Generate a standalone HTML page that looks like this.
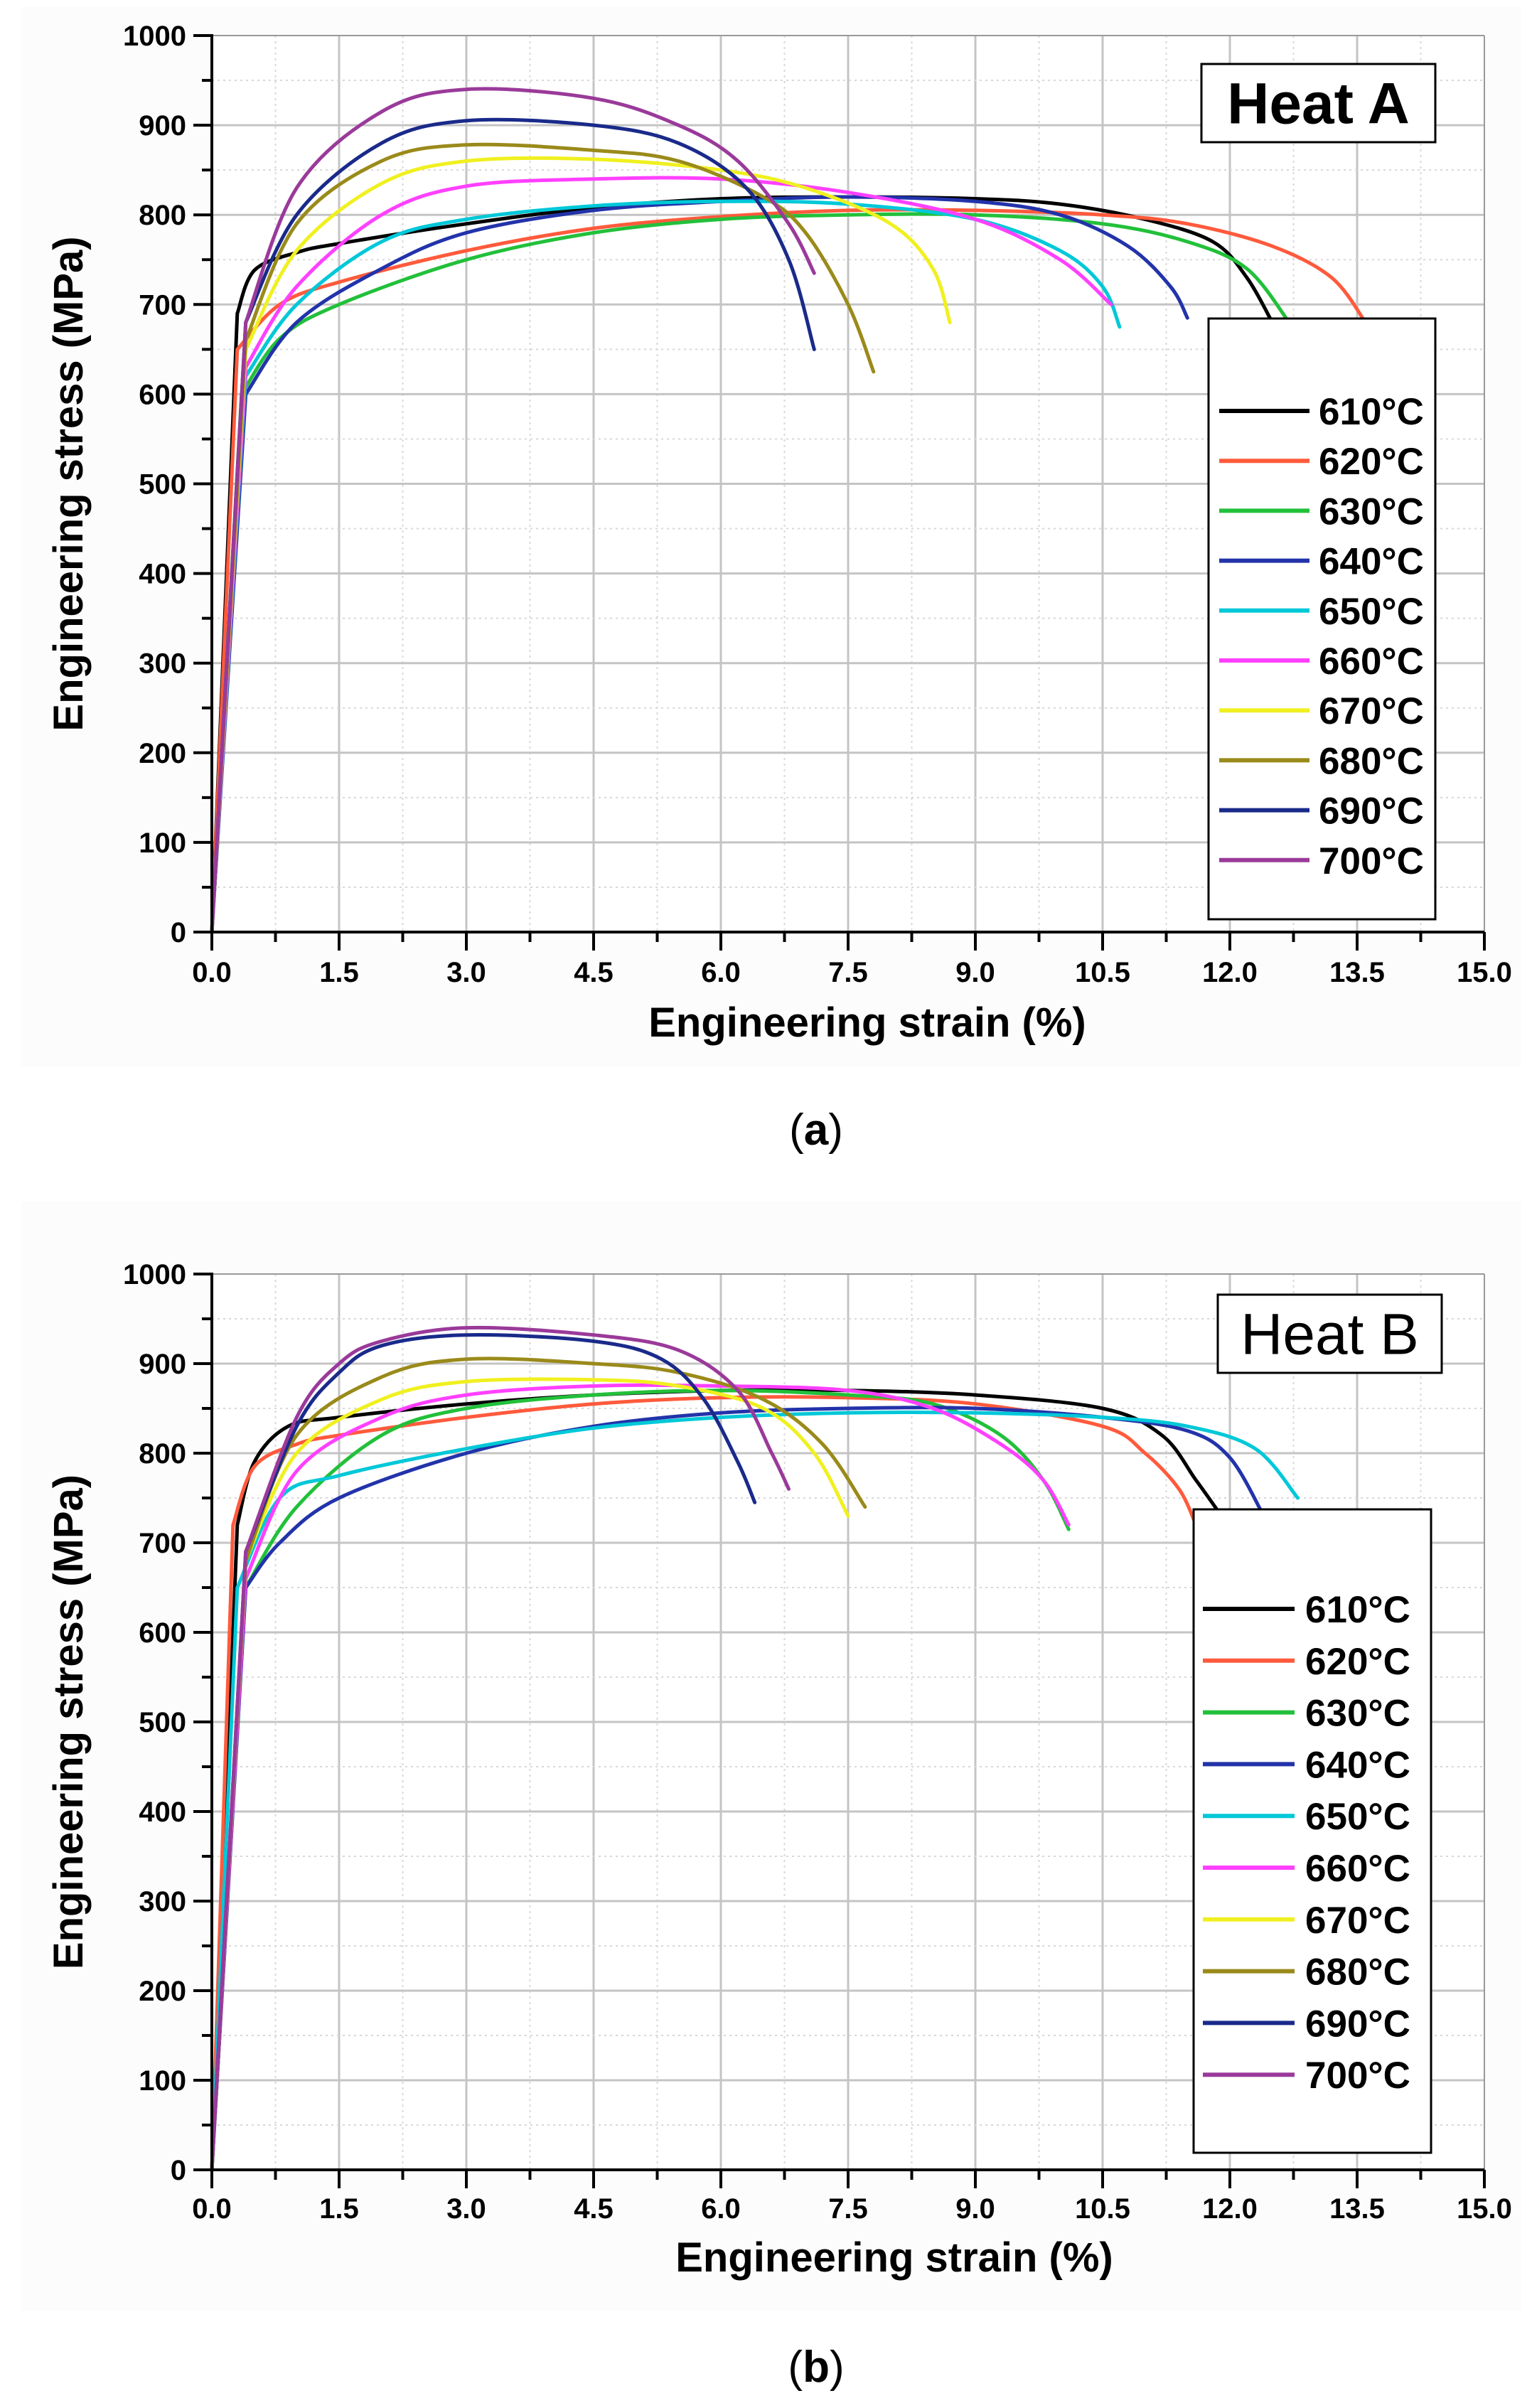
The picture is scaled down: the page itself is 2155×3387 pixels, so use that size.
<!DOCTYPE html>
<html><head><meta charset="utf-8">
<style>
html,body{margin:0;padding:0;background:#fff;}
svg{display:block;}
text{font-family:"Liberation Sans",Arial,sans-serif;}
</style></head>
<body>
<svg id="s" width="2155" height="3387" viewBox="0 0 2155 3387" xmlns="http://www.w3.org/2000/svg">
<rect width="2155" height="3387" fill="#fff"/>
<rect x="30" y="10" width="2110" height="1490" fill="#fcfcfc"/>
<rect x="30" y="1690" width="2110" height="1560" fill="#fcfcfc"/>
<text x="1148" y="1610" font-family="Liberation Serif" font-size="62" text-anchor="middle">(<tspan font-weight="bold">a</tspan>)</text>
<text x="1148" y="3350" font-family="Liberation Serif" font-size="62" text-anchor="middle">(<tspan font-weight="bold">b</tspan>)</text>
</svg>
<script>
const NS="http://www.w3.org/2000/svg";
const svg=document.getElementById('s');
function el(t,a,txt){const e=document.createElementNS(NS,t);for(const k in a)e.setAttribute(k,a[k]);if(txt!==undefined)e.textContent=txt;svg.appendChild(e);return e;}
const colors=['#000000','#ff5a3c','#22c03a','#2233aa','#00c8d8','#ff40ff','#f0f020','#9a8a1a','#1a2a8a','#9a3a9a'];
const labels=['610°C','620°C','630°C','640°C','650°C','660°C','670°C','680°C','690°C','700°C'];
function smooth(pts){
 // straight elastic segment from origin, then smoothed curve
 let d='M'+pts[0][0]+','+pts[0][1]+' L'+pts[1][0]+','+pts[1][1];
 for(let i=1;i<pts.length-1;i++){const p0=i>1?pts[i-1]:pts[i],p1=pts[i],p2=pts[i+1],p3=pts[i+2]||p2;
  const c1=[p1[0]+(p2[0]-p0[0])/6,p1[1]+(p2[1]-p0[1])/6],c2=[p2[0]-(p3[0]-p1[0])/6,p2[1]-(p3[1]-p1[1])/6];
  d+=' C'+c1.join(',')+' '+c2.join(',')+' '+p2.join(',');}return d;}
function plot(cfg){
 const x0=298,x1=2088,y0=cfg.y0,y1=cfg.y1;
 const X=v=>x0+(x1-x0)*v/15, Y=v=>y0+(y1-y0)*v/1000;
 el('rect',{x:x0,y:y1,width:x1-x0,height:y0-y1,fill:'#fff'});
 for(let i=1;i<20;i++){const v=i*0.75;el('line',{x1:X(v),y1:y1,x2:X(v),y2:y0,stroke:i%2?'#d8d8d8':'#c4c4c4','stroke-width':i%2?2:3,'stroke-dasharray':i%2?'3,5':''});}
 for(let i=1;i<20;i++){const v=i*50;el('line',{x1:x0,y1:Y(v),x2:x1,y2:Y(v),stroke:i%2?'#d8d8d8':'#c4c4c4','stroke-width':i%2?2:3,'stroke-dasharray':i%2?'3,5':''});}
 el('line',{x1:x1,y1:y1,x2:x1,y2:y0,stroke:'#999','stroke-width':2});
 el('line',{x1:x0,y1:y1,x2:x1,y2:y1,stroke:'#999','stroke-width':2});
 cfg.data.forEach((c,i)=>{const pts=[[0,0]].concat(c).map(p=>[+X(p[0]).toFixed(1),+Y(p[1]).toFixed(1)]);
  el('path',{d:smooth(pts),fill:'none',stroke:colors[i],'stroke-width':5,'stroke-linejoin':'round','stroke-linecap':'round'});});
 el('line',{x1:x0,y1:y0,x2:x1,y2:y0,stroke:'#000','stroke-width':4});
 el('line',{x1:x0,y1:y1-2,x2:x0,y2:y0,stroke:'#000','stroke-width':4});
 for(let i=0;i<=20;i++){const v=i*0.75;el('line',{x1:X(v),y1:y0,x2:X(v),y2:y0+(i%2?14:26),stroke:'#000','stroke-width':4});
  if(i%2==0)el('text',{x:X(v),y:cfg.xl,'font-size':40,'font-weight':'bold','text-anchor':'middle'},v.toFixed(1));}
 for(let i=0;i<=20;i++){const v=i*50;el('line',{x1:x0,y1:Y(v),x2:x0-(i%2?14:26),y2:Y(v),stroke:'#000','stroke-width':4});
  if(i%2==0)el('text',{x:262,y:Y(v)+14,'font-size':40,'font-weight':'bold','text-anchor':'end'},String(v));}
 el('text',{x:cfg.xc,y:cfg.xt,'font-size':58,'font-weight':'bold','text-anchor':'middle'},'Engineering strain (%)');
 el('text',{x:0,y:0,'font-size':58,'font-weight':'bold','text-anchor':'middle',transform:`translate(116,${(y0+y1)/2}) rotate(-90)`},'Engineering stress (MPa)');
 const h=cfg.heat;el('rect',{x:h[0],y:h[1],width:h[2],height:h[3],fill:'#fff',stroke:'#000','stroke-width':3});
 el('text',{x:h[0]+h[2]/2,y:h[1]+h[3]*0.76,'font-size':h[5],'font-weight':h[6],'text-anchor':'middle'},h[4]);
 const L=cfg.leg;el('rect',{x:L[0],y:L[1],width:L[2],height:L[3],fill:'#fff',stroke:'#000','stroke-width':3});
 for(let i=0;i<10;i++){const yy=L[4]+i*L[5];
  el('line',{x1:L[6],y1:yy,x2:L[7],y2:yy,stroke:colors[i],'stroke-width':6});
  el('text',{x:L[8],y:yy+19,'font-size':53,'font-weight':'bold'},labels[i]);}
}
plot({y0:1311,y1:50,xl:1381,xt:1458,xc:1220,
 heat:[1690,90,329,110,'Heat A',82,'bold'],
 leg:[1700,448,319,845,578,70.2,1715,1842,1855],
 data:[
 [[0.3,690],[0.5,738],[1.0,758],[1.5,768],[3,790],[4.5,808],[6,818],[7.5,820],[9,818],[10,812],[11,795],[11.8,770],[12.2,730],[12.5,680]],
 [[0.3,650],[0.8,700],[1.5,725],[3,760],[4.5,785],[6,798],[7.5,805],[9,805],[10.5,800],[11.5,790],[12.5,765],[13.2,730],[13.6,680]],
 [[0.35,600],[0.8,662],[1.5,700],[3,750],[4.5,780],[6,795],[7.5,800],[9,800],[10.5,790],[11.5,770],[12.2,740],[12.7,680]],
 [[0.4,600],[1,680],[2,740],[3,780],[4.5,805],[6,815],[7.5,820],[9,815],[10,800],[10.8,765],[11.3,720],[11.5,685]],
 [[0.4,620],[1,700],[2,770],[3,795],[4.5,810],[6,815],[7.5,812],[9,795],[10,760],[10.5,720],[10.7,675]],
 [[0.4,630],[1,720],[2,800],[3,832],[4.5,840],[6,840],[7.5,825],[9,795],[10,750],[10.6,700]],
 [[0.4,650],[1,760],[2,835],[3,860],[4.5,862],[6,850],[7,830],[8,790],[8.5,740],[8.7,680]],
 [[0.4,660],[1,790],[2,860],[3,878],[4.5,872],[5.5,860],[6.5,820],[7,780],[7.5,700],[7.8,625]],
 [[0.4,680],[1,800],[2,880],[3,905],[4.5,900],[5.5,880],[6.3,830],[6.8,750],[7.1,650]],
 [[0.4,680],[1,830],[2,915],[3,940],[4.5,930],[5.5,900],[6.2,860],[6.8,790],[7.1,735]]
 ]});
plot({y0:3052,y1:1792,xl:3120,xt:3195,xc:1258,
 heat:[1713,1821,315,110,'Heat B',82,'normal'],
 leg:[1679,2123,334,905,2263,72.8,1692,1821,1836],
 data:[
 [[0.3,720],[0.5,790],[0.9,830],[1.5,840],[3,855],[4.5,865],[6,870],[7.5,870],[9,865],[10.5,850],[11.2,820],[11.6,770],[11.9,730]],
 [[0.25,720],[0.5,785],[1,810],[1.5,820],[3,840],[4.5,855],[6,862],[7.5,862],[9,855],[10.5,830],[11,800],[11.4,760],[11.6,720]],
 [[0.4,650],[1,740],[2,820],[3,850],[4.5,865],[6,870],[7.5,865],[8.5,855],[9.3,820],[9.8,770],[10.1,715]],
 [[0.4,650],[0.8,700],[1.5,750],[3,800],[4.5,830],[6,845],[7.5,850],[9,850],[10.5,840],[11.5,825],[12,795],[12.4,730]],
 [[0.3,650],[0.8,750],[1.5,775],[3,805],[4.5,828],[6,840],[7.5,845],[9,845],[10.5,840],[11.5,830],[12.3,805],[12.8,750]],
 [[0.4,660],[1,780],[2,840],[3,865],[4.5,875],[6,875],[7.5,870],[8.5,850],[9.3,810],[9.8,770],[10.1,720]],
 [[0.4,680],[1,800],[2,860],[3,880],[4.5,882],[5.5,875],[6.5,850],[7.1,800],[7.5,730]],
 [[0.4,680],[1,820],[2,885],[3,905],[4.5,900],[5.5,890],[6.5,860],[7.2,810],[7.7,740]],
 [[0.4,690],[1,830],[1.5,890],[2,920],[3,932],[4.5,925],[5.3,905],[5.8,860],[6.2,790],[6.4,745]],
 [[0.4,690],[1,840],[1.5,900],[2,925],[3,940],[4.5,932],[5.5,915],[6.2,870],[6.6,800],[6.8,760]]
 ]});
</script>
</body></html>
